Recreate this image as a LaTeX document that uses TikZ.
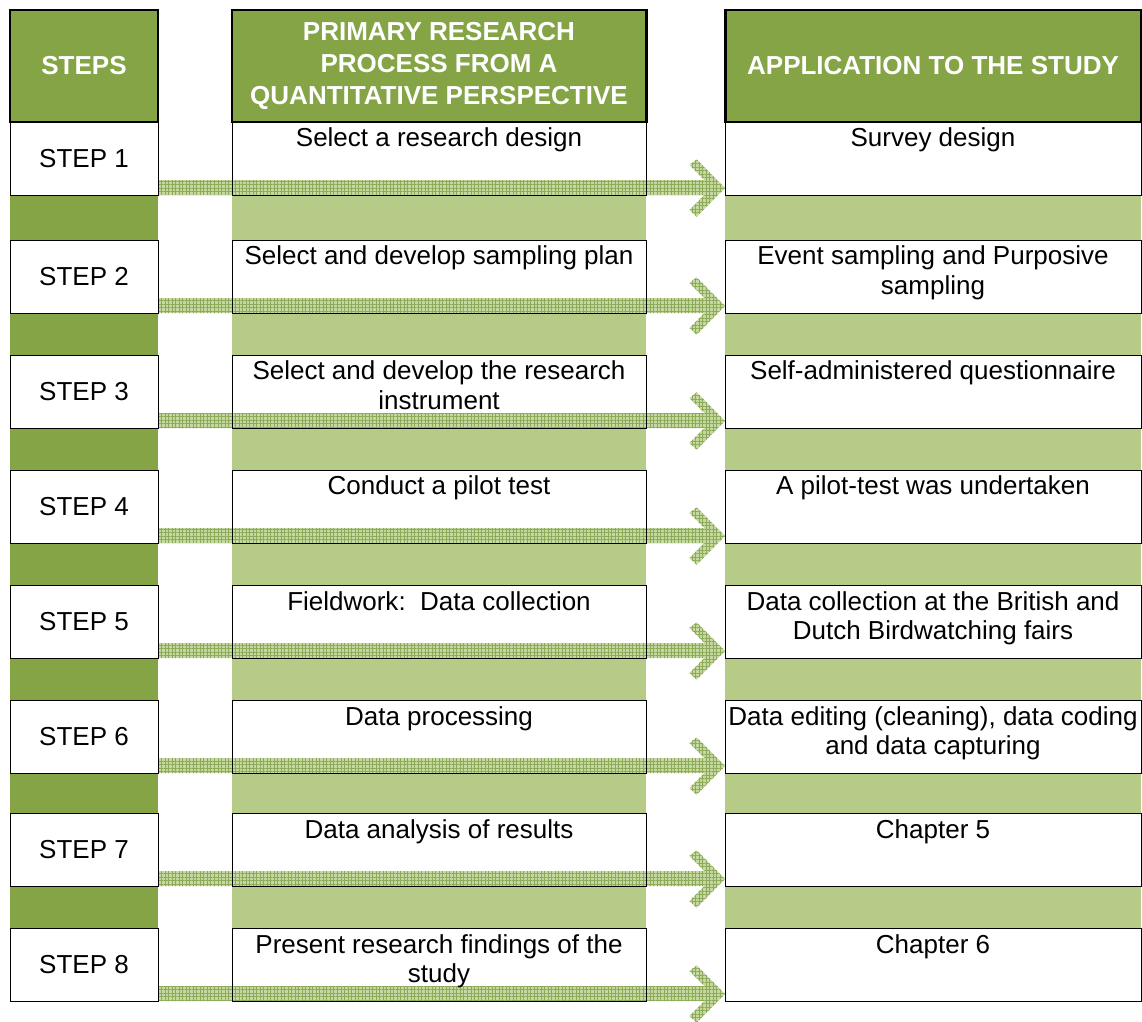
\documentclass[tikz,border=0pt]{standalone}
\usepackage{fontspec}
\setmainfont{Liberation Sans}
\usepackage{xcolor}
\usetikzlibrary{calc, positioning, patterns.meta, backgrounds}
\definecolor{headgreen}{HTML}{84A446}
\definecolor{bargreen}{HTML}{B7CB89}
\definecolor{arrowbg}{HTML}{C6D8A2}
\definecolor{arrowline}{HTML}{8CAA58}
\def\pxu{0.02cm}

\begin{document}
\begin{tikzpicture}[x=\pxu, y=-\pxu,
    every node/.style={inner sep=0pt, outer sep=0pt, font=\fontsize{14.8}{17}\selectfont},
    head/.style={draw=black, line width=1.7pt, fill=headgreen, text=white, align=center,
        minimum height=112*\pxu, font=\bfseries\fontsize{14.8}{18.2}\selectfont},
    cell/.style={draw=black, line width=0.45pt, minimum height=73*\pxu},
    celltext/.style={anchor=north, align=center, inner sep=3.5pt},
    flow/.style={preaction={fill=arrowbg}, pattern color=arrowline,
        pattern={Hatch[angle=0, distance=2pt, line width=0.4pt]}}]
    \useasboundingbox (0,0) rectangle (1142,1021);

    % column heads
    \node[head, minimum width=148*\pxu] (h1) at (84,66) {STEPS};
    \node[head, minimum width=414*\pxu] (h2) at (439,66) {\rule{0pt}{4pt}PRIMARY RESEARCH\\PROCESS FROM A\\QUANTITATIVE PERSPECTIVE};
    \node[head, minimum width=416*\pxu] (h3) at (933,66) {APPLICATION TO THE STUDY};

    % steps (\t = top edge of the row)
    \foreach \i/\t/\p/\a in {
        1/122/{Select a research design}/{Survey design},
        2/240/{Select and develop sampling plan}/{Event sampling and Purposive\\sampling},
        3/355/{Select and develop the research\\instrument}/{Self-administered questionnaire},
        4/470/{Conduct a pilot test}/{A pilot-test was undertaken},
        5/585/{Fieldwork:\ \ Data collection}/{Data collection at the British and\\Dutch Birdwatching fairs},
        6/700/{Data processing}/{Data editing (cleaning), data coding\\and data capturing},
        7/813/{Data analysis of results}/{Chapter 5},
        8/928/{Present research findings of the\\study}/{Chapter 6}} {
        \node[cell, minimum width=148*\pxu] (s\i) at (84,\t+36.5) {STEP \i};
        \node[cell, minimum width=414*\pxu] (p\i) at (439,\t+36.5) {};
        \node[cell, minimum width=416*\pxu] (a\i) at (933,\t+36.5) {};
        \node[celltext] (pt\i) at (p\i.north) {\p};
        \node[celltext] (at\i) at (a\i.north) {\a};
        \begin{scope}[on background layer]
            \fill[flow] ($(s\i.south east)+(0,-15)$) -- ($(a\i.south west)+(-20.7,-15)$)
                -- ($(a\i.south west)+(-35.7,-30)$) -- ($(a\i.south west)+(-28.3,-35.7)$)
                -- ($(a\i.south west)+(0,-7)$) -- ($(a\i.south west)+(-28.3,21.7)$)
                -- ($(a\i.south west)+(-35.7,15)$) -- ($(a\i.south west)+(-20.7,0)$)
                -- (s\i.south east) -- cycle;
        \end{scope}
    }

    % bands between the steps
    \begin{scope}[on background layer]
    \foreach \i [evaluate=\i as \j using int(\i+1)] in {1,...,7} {
        \fill[headgreen] (s\i.south west) rectangle (s\j.north east);
        \fill[bargreen] (p\i.south west) rectangle (p\j.north east);
        \fill[bargreen] (a\i.south west) rectangle (a\j.north east);
    }
    \end{scope}
\end{tikzpicture}
\end{document}
